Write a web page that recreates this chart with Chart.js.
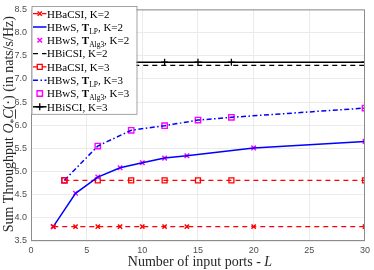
<!DOCTYPE html>
<html lang="en">
<head>
<meta charset="UTF-8">
<title>Sum Throughput vs number of input ports</title>
<script src="https://cdn.jsdelivr.net/npm/chart.js"></script>
<style>
  html, body { margin: 0; padding: 0; background: #fff; }
</style>
</head>
<body>
<canvas id="tputChart" width="374" height="270"></canvas>
<script>
// input ports L for the two families of curves
const portsK2 = [2, 4, 6, 8, 10, 12, 14, 20, 30];
const portsK3 = [3, 6, 9, 12, 15, 18, 30];

// sum throughput (nats/s/Hz)
const hbacsiK2 = [3.81, 3.81, 3.81, 3.81, 3.81, 3.81, 3.81, 3.81, 3.81];
const hbwsLpK2 = [3.81, 4.53, 4.88, 5.08, 5.19, 5.29, 5.34, 5.51, 5.65];
const hbwsAlgK2 = [3.81, 4.53, 4.88, 5.08, 5.19, 5.29, 5.34, 5.51, 5.65];
const hbicsiK2 = [7.29, 7.29, 7.29, 7.29, 7.29, 7.29, 7.29, 7.29, 7.29];
const hbacsiK3 = [4.81, 4.81, 4.81, 4.81, 4.81, 4.81, 4.81];
const hbwsLpK3 = [4.81, 5.55, 5.89, 5.99, 6.11, 6.17, 6.37];
const hbwsAlgK3 = [4.81, 5.55, 5.89, 5.99, 6.11, 6.17, 6.37];
const hbiscK3 = [7.36, 7.36, 7.36, 7.36, 7.36, 7.36, 7.36];

const xTicks = [0, 5, 10, 15, 20, 25, 30];
const yTicks = [3.5, 4, 4.5, 5, 5.5, 6, 6.5, 7, 7.5, 8, 8.5];

const SERIF = '"Liberation Serif", "DejaVu Serif", serif';
const RED = '#ff0000', BLUE = '#0000ff', MAG = '#ff00ff', BLK = '#000000';

function pts(xs, ys) {
    return xs.map((x, i) => ({ x: x, y: ys[i] }));
}

// legend rows: rich text pieces (b = bold, s = subscript)
const legendRows = [
    [{ t: 'HBaCSI, K=2' }],
    [{ t: 'HBwS, ' }, { t: 'T', b: 1 }, { t: 'LP', s: 1 }, { t: ', K=2' }],
    [{ t: 'HBwS, ' }, { t: 'T', b: 1 }, { t: 'Alg3', s: 1 }, { t: ', K=2' }],
    [{ t: 'HBiCSI, K=2' }],
    [{ t: 'HBaCSI, K=3' }],
    [{ t: 'HBwS, ' }, { t: 'T', b: 1 }, { t: 'LP', s: 1 }, { t: ', K=3' }],
    [{ t: 'HBwS, ' }, { t: 'T', b: 1 }, { t: 'Alg3', s: 1 }, { t: ', K=3' }],
    [{ t: 'HBiSCI, K=3' }]
];

function fontFor(sg, size) {
    return (sg.i ? 'italic ' : '') + (sg.b ? 'bold ' : '') + (sg.s ? size * 0.68 : size) + 'px ' + SERIF;
}

function richWidth(ctx, segs, size) {
    let w = 0;
    segs.forEach(sg => {
        ctx.font = fontFor(sg, size);
        w += ctx.measureText(sg.t).width;
    });
    return w;
}

function drawRich(ctx, x, y, segs, size) {
    ctx.textBaseline = 'alphabetic';
    ctx.textAlign = 'left';
    segs.forEach(sg => {
        ctx.font = fontFor(sg, size);
        const yy = sg.s ? y + size * 0.25 : y;
        ctx.fillText(sg.t, x, yy);
        const w = ctx.measureText(sg.t).width;
        if (sg.u) {
            ctx.fillRect(x, y + 2, w, 0.9);
        }
        x += w;
    });
}

const extrasPlugin = {
    id: 'extras',
    afterDraw(chart) {
        const ctx = chart.ctx;
        const a = chart.chartArea;
        ctx.save();

        // axes box
        ctx.strokeStyle = '#8c8c8c';
        ctx.lineWidth = 1;
        ctx.strokeRect(a.left + 0.5, a.top + 0.5, a.right - a.left - 1, a.bottom - a.top - 1);

        // legend
        const lx = a.left + 0.5, ly = a.top - 3.5, lw = 105, rowH = 13.3;
        const lh = rowH * legendRows.length + 1.5;
        ctx.fillStyle = '#fff';
        ctx.fillRect(lx, ly, lw, lh);
        ctx.strokeStyle = '#8c8c8c';
        ctx.lineWidth = 0.8;
        ctx.strokeRect(lx + 0.5, ly + 0.5, lw, lh);

        chart.data.datasets.forEach((ds, i) => {
            const cy = ly + 7.8 + i * rowH;
            const x0 = lx + 1.5, x1 = lx + 15;
            if (ds.showLine !== false) {
                ctx.strokeStyle = ds.borderColor;
                ctx.lineWidth = ds.borderWidth;
                ctx.setLineDash(ds.borderDash || []);
                ctx.beginPath();
                ctx.moveTo(x0, cy);
                ctx.lineTo(x1, cy);
                ctx.stroke();
                ctx.setLineDash([]);
            }
            if (ds.pointRadius > 0) {
                ctx.strokeStyle = ds.pointBorderColor;
                ctx.fillStyle = ds.pointBackgroundColor;
                ctx.lineWidth = ds.pointBorderWidth;
                Chart.helpers.drawPoint(ctx, {
                    pointStyle: ds.pointStyle,
                    radius: ds.pointRadius,
                    borderWidth: ds.pointBorderWidth,
                    rotation: 0
                }, (x0 + x1) / 2, cy);
            }
            ctx.fillStyle = '#000';
            drawRich(ctx, x1 + 0.5, cy + 3.8, legendRows[i], 11);
        });

        // x axis title
        ctx.fillStyle = '#262626';
        const xt = [{ t: 'Number of input ports - ' }, { t: 'L', i: 1 }];
        const xw = richWidth(ctx, xt, 14);
        drawRich(ctx, (a.left + a.right) / 2 - xw / 2 + 2, 266, xt, 14);

        // y axis title, rotated
        const yt = [
            { t: 'Sum Throughput ' }, { t: 'O', i: 1 }, { t: '*', s: 1 },
            { t: 'C', i: 1, u: 1 }, { t: '(\u00b7) (in nats/s/Hz)' }
        ];
        const yw = richWidth(ctx, yt, 14);
        ctx.translate(13, (a.top + a.bottom) / 2 - 1);
        ctx.rotate(-Math.PI / 2);
        drawRich(ctx, -yw / 2, 0, yt, 14);

        ctx.restore();
    }
};

const ctx = document.getElementById('tputChart').getContext('2d');
new Chart(ctx, {
    type: 'scatter',
    data: {
        datasets: [
            {
                label: 'HBaCSI, K=2', data: pts(portsK2, hbacsiK2), showLine: true,
                borderColor: RED, borderWidth: 1.3, borderDash: [5, 4],
                pointStyle: 'crossRot', pointRadius: 3, pointBorderColor: RED, pointBorderWidth: 1.5,
                pointBackgroundColor: RED
            },
            {
                label: 'HBwS, T_LP, K=2', data: pts(portsK2, hbwsLpK2), showLine: true,
                borderColor: BLUE, borderWidth: 1.5,
                pointRadius: 0, pointBorderColor: BLUE, pointBorderWidth: 1
            },
            {
                label: 'HBwS, T_Alg3, K=2', data: pts(portsK2, hbwsAlgK2), showLine: false,
                borderColor: MAG, borderWidth: 0,
                pointStyle: 'crossRot', pointRadius: 3.2, pointBorderColor: MAG, pointBorderWidth: 1.5,
                pointBackgroundColor: MAG
            },
            {
                label: 'HBiCSI, K=2', data: pts(portsK2, hbicsiK2), showLine: true,
                borderColor: BLK, borderWidth: 1.3, borderDash: [5, 4],
                pointRadius: 0, pointBorderColor: BLK, pointBorderWidth: 1
            },
            {
                label: 'HBaCSI, K=3', data: pts(portsK3, hbacsiK3), showLine: true,
                borderColor: RED, borderWidth: 1.3, borderDash: [5, 4],
                pointStyle: 'rect', pointRadius: 3.5, pointBorderColor: RED, pointBorderWidth: 1.3,
                pointBackgroundColor: 'rgba(0,0,0,0)'
            },
            {
                label: 'HBwS, T_LP, K=3', data: pts(portsK3, hbwsLpK3), showLine: true,
                borderColor: BLUE, borderWidth: 1.5, borderDash: [5, 2.5, 1.5, 2.5],
                pointRadius: 0, pointBorderColor: BLUE, pointBorderWidth: 1
            },
            {
                label: 'HBwS, T_Alg3, K=3', data: pts(portsK3, hbwsAlgK3), showLine: false,
                borderColor: MAG, borderWidth: 0,
                pointStyle: 'rect', pointRadius: 3.8, pointBorderColor: MAG, pointBorderWidth: 1.4,
                pointBackgroundColor: 'rgba(0,0,0,0)'
            },
            {
                label: 'HBiSCI, K=3', data: pts(portsK3, hbiscK3), showLine: true,
                borderColor: BLK, borderWidth: 1.5,
                pointStyle: 'cross', pointRadius: 3.5, pointBorderColor: BLK, pointBorderWidth: 1.3,
                pointBackgroundColor: BLK
            }
        ]
    },
    options: {
        responsive: false,
        animation: false,
        devicePixelRatio: 1,
        layout: { padding: { top: 6, right: 6, left: 0, bottom: 0 } },
        plugins: {
            legend: { display: false },
            tooltip: { enabled: false }
        },
        scales: {
            x: {
                type: 'linear', min: 0, max: 30,
                afterFit: s => { s.height = 29; },
                afterBuildTicks: s => { s.ticks = xTicks.map(v => ({ value: v })); },
                grid: { color: '#ebebeb', drawTicks: false },
                border: { display: false },
                ticks: { padding: 4, color: '#4d4d4d', font: { size: 9, family: 'Liberation Sans, Arial, sans-serif' } }
            },
            y: {
                type: 'linear', min: 3.5, max: 8.5,
                afterFit: s => { s.width = 31; },
                afterBuildTicks: s => { s.ticks = yTicks.map(v => ({ value: v })); },
                grid: { color: '#ebebeb', drawTicks: false },
                border: { display: false },
                ticks: { padding: 4, color: '#4d4d4d', font: { size: 9, family: 'Liberation Sans, Arial, sans-serif' } }
            }
        }
    },
    plugins: [extrasPlugin]
});
</script>
</body>
</html>
